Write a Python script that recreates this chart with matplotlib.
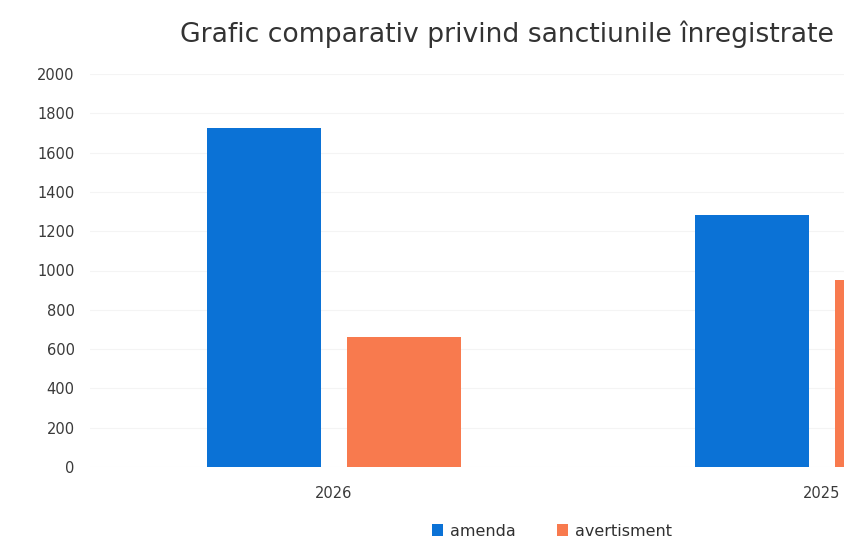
import matplotlib
matplotlib.use("Agg")
import matplotlib.pyplot as plt
import numpy as np

plt.rcParams['font.family'] = ['DejaVu Sans']

categories = ["2026", "2025"]
amenda = [1725, 1280]
avertisment = [660, 950]
yticks = [0, 200, 400, 600, 800, 1000, 1200, 1400, 1600, 1800, 2000]

W, H = 845, 542
fig = plt.figure(figsize=(W / 100, H / 100), dpi=100)
ax = fig.add_axes([90 / W, (H - 467) / H, 976 / W, 393 / H])

x = np.arange(len(categories))
bw = 0.234
off = 0.143
c_blue = "#0b72d6"
c_orange = "#f87a4e"
ax.bar(x - off, amenda, bw, color=c_blue, label="amenda", zorder=3)
ax.bar(x + off, avertisment, bw, color=c_orange, label="avertisment", zorder=3)

ax.set_xlim(-0.5, 1.5)
ax.set_ylim(0, 2000)
ax.set_yticks(yticks)
ax.set_yticklabels([str(v) for v in yticks])
ax.set_xticks(x)
ax.set_xticklabels(categories)
ax.tick_params(axis='both', length=0, colors="#3a3a3a", labelsize=10.5)
ax.tick_params(axis='y', pad=11)
ax.tick_params(axis='x', pad=14)
ax.yaxis.grid(True, color="#f4f4f4", linewidth=0.8, zorder=0)
for s in ax.spines.values():
    s.set_visible(False)

fig.text(180 / W, 1 - 34 / H, "Grafic comparativ privind sanctiunile înregistrate",
         fontsize=19.2, color="#333333", ha="left", va="center")

fig.legend(loc="center", bbox_to_anchor=(552 / W, 1 - 531 / H), ncol=2,
           frameon=False, fontsize=11.5, handlelength=0.7, handleheight=0.7,
           handletextpad=0.4, columnspacing=2.6, labelcolor="#303030")

fig.savefig("out.png", dpi=100)
